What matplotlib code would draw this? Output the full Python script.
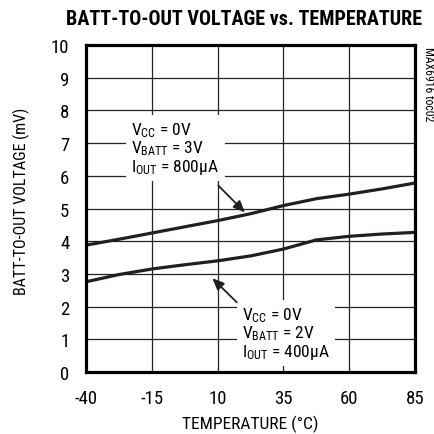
import matplotlib
matplotlib.use("Agg")
import matplotlib.pyplot as plt
from matplotlib import font_manager

# data
temp_c = [-40, -27.5, -15, -2.5, 10, 22.5, 35, 47.5, 60, 72.5, 85]
vbatt_3v = [3.88, 4.06, 4.25, 4.44, 4.63, 4.84, 5.09, 5.30, 5.44, 5.60, 5.78]
vbatt_2v = [2.76, 2.98, 3.15, 3.28, 3.40, 3.55, 3.76, 4.04, 4.15, 4.22, 4.27]
x_ticks = [-40, -15, 10, 35, 60, 85]
y_ticks = list(range(0, 11))

names = {f.name for f in font_manager.fontManager.ttflist}
FONT = next((n for n in ("Roboto Condensed", "Archivo Narrow", "PT Sans Narrow", "Liberation Sans")
             if n in names), "DejaVu Sans")

plt.rcParams["font.family"] = [FONT, "DejaVu Sans"]
plt.rcParams["mathtext.fontset"] = "custom"
plt.rcParams["mathtext.rm"] = FONT
plt.rcParams["mathtext.it"] = FONT

INK = "#231f20"

fig = plt.figure(figsize=(4.35, 4.35), dpi=100)
ax = fig.add_axes([0.1977, 0.1425, 0.7563, 0.7517])

ax.plot(temp_c, vbatt_3v, color=INK, lw=2.3, solid_capstyle="butt", zorder=4)
ax.plot(temp_c, vbatt_2v, color=INK, lw=2.3, solid_capstyle="butt", zorder=4)

ax.set_xlim(-40, 85)
ax.set_ylim(0, 10)
ax.set_xticks(x_ticks, [str(t) for t in x_ticks])
ax.set_yticks(y_ticks)
ax.tick_params(length=0, labelsize=13.5, colors="black")
ax.tick_params(axis="x", pad=12)
ax.tick_params(axis="y", pad=12)
ax.grid(True, color="#222222", lw=0.9)
ax.set_axisbelow(True)
for s in ax.spines.values():
    s.set_linewidth(2.3)
    s.set_zorder(5)

ax.set_xlabel("TEMPERATURE (°C)", fontsize=12.5, labelpad=6)
ax.set_ylabel("BATT-TO-OUT VOLTAGE (mV)", fontsize=11.5)
ax.yaxis.label.set_verticalalignment("center")
ax.yaxis.set_label_coords(-0.1976, 0.526)
fig.text(0.561, 0.955, "BATT-TO-OUT VOLTAGE vs. TEMPERATURE",
         ha="center", va="center", fontsize=14.5, fontweight="heavy")
fig.text(0.986, 0.807, "MAX6916 toc02", rotation=270, ha="center", va="center",
         fontsize=8.5)

box = dict(boxstyle="square,pad=0.32", facecolor="white", edgecolor="none")
ax.text(-22.8, 6.85,
        "V$_{\\mathrm{CC}}$ = 0V\nV$_{\\mathrm{BATT}}$ = 3V\nI$_{\\mathrm{OUT}}$ = 800µA",
        ha="left", va="center", fontsize=12.5, linespacing=0.95, bbox=box, zorder=3)
ax.text(19.3, 1.19,
        "V$_{\\mathrm{CC}}$ = 0V\nV$_{\\mathrm{BATT}}$ = 2V\nI$_{\\mathrm{OUT}}$ = 400µA",
        ha="left", va="center", fontsize=12.5, linespacing=0.95, bbox=box, zorder=3)

arrow = dict(arrowstyle="-|>,head_length=0.7,head_width=0.3", color=INK, lw=1.3,
             shrinkA=0, shrinkB=0)
ax.annotate("", xy=(20.4, 4.88), xytext=(10.3, 5.70), arrowprops=arrow, zorder=4)
ax.annotate("", xy=(8.0, 2.87), xytext=(17.3, 2.13), arrowprops=arrow, zorder=4)

fig.savefig("out.png", dpi=100)
